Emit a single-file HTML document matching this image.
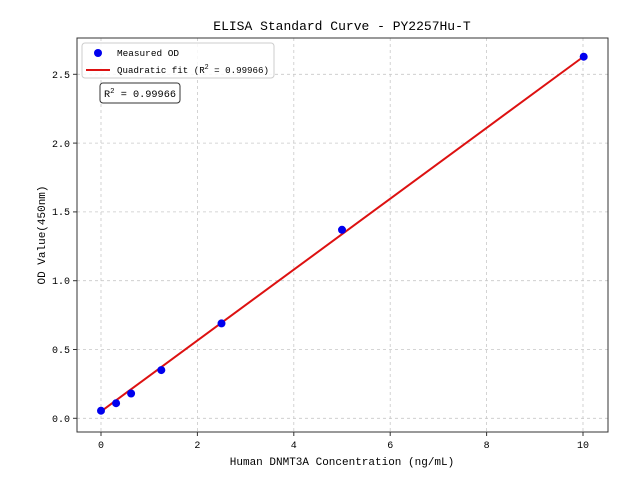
<!DOCTYPE html>
<html><head><meta charset="utf-8"><style>
html,body{margin:0;padding:0;background:#fff;}
svg{display:block;font-family:"Liberation Mono","WenQuanYi Zen Hei",monospace;}
</style></head><body>
<svg width="640" height="480" xmlns="http://www.w3.org/2000/svg">
<rect width="640" height="480" fill="#fff"/>
<g stroke="#c8c8c8" stroke-dasharray="3,3" stroke-width="0.8">
<line x1="101" y1="38" x2="101" y2="432"/>
<line x1="197.4" y1="38" x2="197.4" y2="432"/>
<line x1="293.8" y1="38" x2="293.8" y2="432"/>
<line x1="390.2" y1="38" x2="390.2" y2="432"/>
<line x1="486.6" y1="38" x2="486.6" y2="432"/>
<line x1="583" y1="38" x2="583" y2="432"/>
<line x1="77" y1="418.3" x2="608" y2="418.3"/>
<line x1="77" y1="349.5" x2="608" y2="349.5"/>
<line x1="77" y1="280.7" x2="608" y2="280.7"/>
<line x1="77" y1="211.9" x2="608" y2="211.9"/>
<line x1="77" y1="143.1" x2="608" y2="143.1"/>
<line x1="77" y1="74.3" x2="608" y2="74.3"/>
</g>
<line x1="101" y1="411.4" x2="583.7" y2="56.5" stroke="#dd1111" stroke-width="2"/>
<g fill="#0000ee">
<circle cx="101" cy="410.7" r="4"/>
<circle cx="116.1" cy="403.2" r="4"/>
<circle cx="131.1" cy="393.5" r="4"/>
<circle cx="161.3" cy="370.1" r="4"/>
<circle cx="221.5" cy="323.4" r="4"/>
<circle cx="342" cy="229.8" r="4"/>
<circle cx="583.7" cy="56.7" r="4"/>
</g>
<rect x="77" y="38" width="531" height="394" fill="none" stroke="#333" stroke-width="1"/>
<g stroke="#333">
<line x1="101" y1="432" x2="101" y2="436"/><line x1="197.4" y1="432" x2="197.4" y2="436"/>
<line x1="293.8" y1="432" x2="293.8" y2="436"/><line x1="390.2" y1="432" x2="390.2" y2="436"/>
<line x1="486.6" y1="432" x2="486.6" y2="436"/><line x1="583" y1="432" x2="583" y2="436"/>
<line x1="73" y1="418.3" x2="77" y2="418.3"/><line x1="73" y1="349.5" x2="77" y2="349.5"/>
<line x1="73" y1="280.7" x2="77" y2="280.7"/><line x1="73" y1="211.9" x2="77" y2="211.9"/>
<line x1="73" y1="143.1" x2="77" y2="143.1"/><line x1="73" y1="74.3" x2="77" y2="74.3"/>
</g>
<g font-size="10" fill="#000" text-anchor="middle">
<text x="101" y="448">0</text><text x="197.4" y="448">2</text><text x="293.8" y="448">4</text>
<text x="390.2" y="448">6</text><text x="486.6" y="448">8</text><text x="583" y="448">10</text>
</g>
<g font-size="10" fill="#000" text-anchor="end">
<text x="70" y="422">0.0</text><text x="70" y="353">0.5</text><text x="70" y="284">1.0</text>
<text x="70" y="215">1.5</text><text x="70" y="147">2.0</text><text x="70" y="78">2.5</text>
</g>
<text x="342" y="465" font-size="11" text-anchor="middle">Human DNMT3A Concentration (ng/mL)</text>
<text transform="translate(45,235) rotate(-90)" font-size="11" text-anchor="middle">OD Value(450nm)</text>
<text x="342" y="30" font-size="13" text-anchor="middle">ELISA Standard Curve - PY2257Hu-T</text>
<rect x="82" y="43" width="192" height="35" rx="3" fill="#fff" fill-opacity="0.85" stroke="#ccc"/>
<circle cx="98" cy="53" r="4" fill="#0000ee"/>
<line x1="86" y1="70" x2="110" y2="70" stroke="#dd1111" stroke-width="2"/>
<text x="117" y="56" font-size="9.5" textLength="62" lengthAdjust="spacingAndGlyphs">Measured OD</text>
<text x="117" y="73" font-size="9.5" textLength="152" lengthAdjust="spacingAndGlyphs">Quadratic fit (R<tspan font-size="7" dy="-4">2</tspan><tspan dy="4"> = 0.99966)</tspan></text>
<rect x="100" y="83" width="80" height="20" rx="3" fill="#fff" stroke="#333"/>
<text x="104" y="97" font-size="10.5" textLength="72" lengthAdjust="spacingAndGlyphs">R<tspan font-size="7.5" dy="-4">2</tspan><tspan dy="4"> = 0.99966</tspan></text>
</svg>
</body></html>
